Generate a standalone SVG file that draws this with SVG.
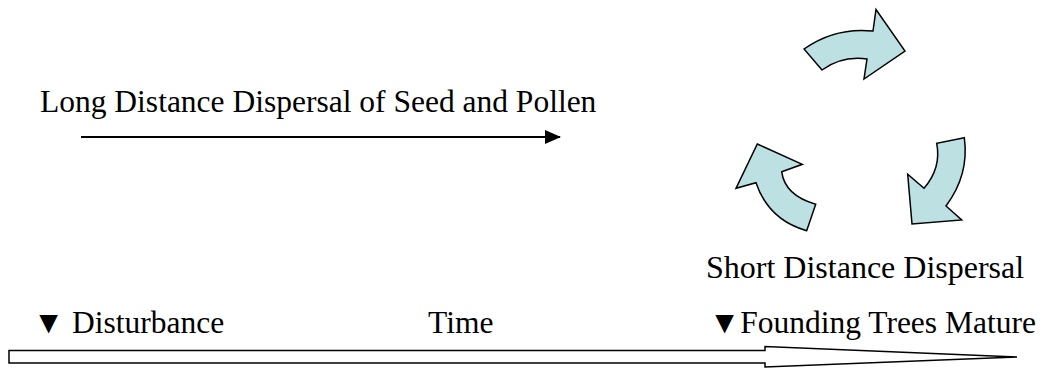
<svg xmlns="http://www.w3.org/2000/svg" width="1044" height="368" viewBox="0 0 1044 368">
<style>
  .t { font-family: "Liberation Serif", "Times New Roman", serif; font-size: 31.5px; fill: #000; }
  .cyc { fill: #bde0e3; stroke: #000; stroke-width: 1.5; stroke-linejoin: miter; }
  .big { fill: #fff; stroke: #000; stroke-width: 1.5; }
  .ln { stroke: #000; stroke-width: 2.2; fill: none; }
</style>
<defs>
  <marker id="ah" markerWidth="16" markerHeight="14" refX="15" refY="7" orient="auto" markerUnits="userSpaceOnUse">
    <path d="M0,0 L16,7 L0,14 Z" fill="#000"/>
  </marker>
</defs>
<rect width="1044" height="368" fill="#fff"/>
<g id="connectors">
  <line class="ln" x1="81" y1="137" x2="560" y2="137" marker-end="url(#ah)"/>
</g>
<g id="long-label">
  <text class="t" x="40" y="112">Long Distance Dispersal of Seed and Pollen</text>
</g>
<g id="cycle-top">
  <path class="cyc" d="M804,49 Q835,27 873,31 L876,9.5 L905,51 L864,79 L867,59 Q842,55.5 822,70 Z"/>
</g>
<g id="cycle-right">
  <path class="cyc" d="M964.3,137.7 L936.7,143.3 Q941.6,167.6 924,188.3 L907.7,174.3 L912,224 L961.7,220 L946,206 Q969.4,174.8 964.3,137.7 Z"/>
</g>
<g id="cycle-left">
  <path class="cyc" d="M757.3,144 L802.3,164.3 L781.7,171.7 Q784.7,195.4 815.7,204.3 L806.7,230.7 Q768.6,219.9 756,182.7 L736,188.3 Z"/>
</g>
<g id="short-label">
  <text class="t" x="706" y="278" style="font-size:32px">Short Distance Dispersal</text>
</g>
<g id="timeline">
  <path class="big" d="M9,350.5 L765,350.5 L765,346.5 L1017,357 L765,367 L765,363 L9,363 Z"/>
  <text class="t" x="33" y="333">▼ Disturbance</text>
  <text class="t" x="428" y="333">Time</text>
  <text class="t" x="709" y="333">▼Founding Trees Mature</text>
</g>
</svg>
